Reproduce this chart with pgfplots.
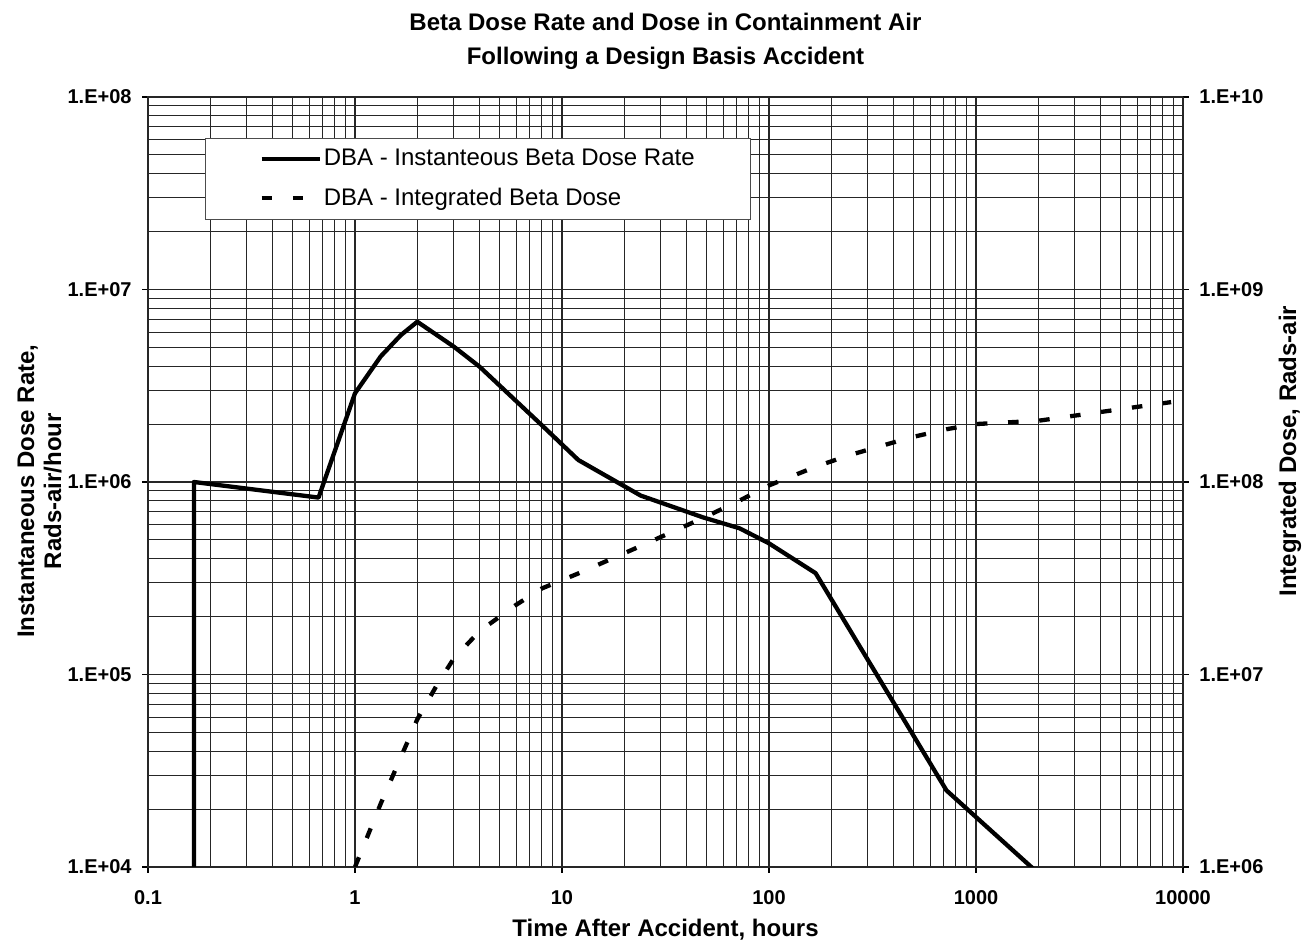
\documentclass[border=0pt]{standalone}
\usepackage{fontspec}
\setmainfont{Liberation Sans}
\usepackage{pgfplots}
\pgfplotsset{compat=1.18}

\begin{document}
\begin{tikzpicture}
\path[use as bounding box] (-74pt,-41.5pt) rectangle (582pt,433.5pt);

% left axis: dose rate
\begin{axis}[
  at={(0,0)}, anchor=south west,
  scale only axis, width=517.5pt, height=385pt,
  xmode=log, ymode=log,
  xmin=0.1, xmax=10000,
  ymin=1e4, ymax=1e8,
  xtick={0.1,1,10,100,1000,10000},
  xticklabels={0.1,1,10,100,1000,10000},
  ytick={1e4,1e5,1e6,1e7,1e8},
  yticklabels={1.E+04,1.E+05,1.E+06,1.E+07,1.E+08},
  minor xtick={0.2,0.3,0.4,0.5,0.6,0.7,0.8,0.9,2,3,4,5,6,7,8,9,20,30,40,50,60,70,80,90,200,300,400,500,600,700,800,900,2000,3000,4000,5000,6000,7000,8000,9000},
  minor ytick={2e4,3e4,4e4,5e4,6e4,7e4,8e4,9e4,2e5,3e5,4e5,5e5,6e5,7e5,8e5,9e5,2e6,3e6,4e6,5e6,6e6,7e6,8e6,9e6,2e7,3e7,4e7,5e7,6e7,7e7,8e7,9e7},
  grid=both,
  major grid style={black!85, line width=0.55pt},
  minor grid style={black!85, line width=0.55pt},
  tick align=outside,
  major tick length=3pt, minor tick length=0pt,
  tick style={black, line width=0.55pt},
  axis line style={black!85, line width=0.55pt},
  xtick pos=bottom, ytick pos=left,
  ticklabel style={font=\bfseries\fontsize{10}{12}\selectfont},
  xticklabel style={yshift=-5pt, text height=7.2pt},
  yticklabel style={xshift=-1.7pt},
  title={Beta Dose Rate and Dose in Containment Air\\Following a Design Basis Accident},
  every axis title/.style={at={(axis description cs:0.5,1)}, anchor=south, yshift=10pt,
    align=center, font=\bfseries\fontsize{12}{17.3}\selectfont},
  xlabel={Time After Accident, hours},
  xlabel style={at={(axis description cs:0.5,-0.0818)}, anchor=center,
    font=\bfseries\fontsize{12}{13.5}\selectfont},
  ylabel={Instantaneous Dose Rate,\\Rads-air/hour},
  ylabel style={at={(axis description cs:-0.1048,0.488)}, anchor=center,
    align=center, font=\bfseries\fontsize{12}{13.5}\selectfont},
]
\addplot[black, line width=2.15pt, line join=round] coordinates {
  (0.1667,1e3) (0.1667,1.0e6) (0.6667,8.3e5) (1,2.89e6) (1.333,4.5e6)
  (1.667,5.8e6) (2,6.8e6) (3,5.05e6) (4,3.97e6) (8,1.97e6) (12,1.3e6)
  (24,8.5e5) (48,6.55e5) (72,5.75e5) (100,4.8e5) (168,3.36e5)
  (720,2.5e4) (2160,8.6e3)
};
\end{axis}

% right axis: integrated dose
\begin{axis}[
  at={(0,0)}, anchor=south west,
  scale only axis, width=517.5pt, height=385pt,
  xmode=log, ymode=log,
  xmin=0.1, xmax=10000,
  ymin=1e6, ymax=1e10,
  ytick={1e6,1e7,1e8,1e9,1e10},
  yticklabels={1.E+06,1.E+07,1.E+08,1.E+09,1.E+10},
  minor ytick={},
  axis x line=none,
  axis y line*=right,
  tick align=outside,
  major tick length=3pt, minor tick length=0pt,
  tick style={black, line width=0.55pt},
  axis line style={black!85, line width=0.55pt},
  ticklabel style={font=\bfseries\fontsize{10}{12}\selectfont},
  yticklabel style={xshift=1.7pt},
  ylabel={Integrated Dose, Rads-air},
  ylabel style={at={(axis description cs:1.1034,0.54)}, anchor=center,
    font=\bfseries\fontsize{12}{13.5}\selectfont},
  legend image code/.code={\draw[#1] (0pt,0pt) -- (29pt,0pt);},
  legend cell align=left,
  legend style={at={(axis description cs:0.0551,0.9468)}, anchor=north west,
    draw=black!70, line width=0.5pt, fill=white,
    inner xsep=27pt, inner ysep=3.5pt, row sep=5.5pt,
    font=\fontsize{12}{14}\selectfont,
    nodes={inner xsep=1pt, inner ysep=2pt, text depth=0.15em}},
]
\addlegendimage{black, line width=2.15pt}
\addlegendentry{DBA - Instanteous Beta Dose Rate}
\addplot[black, line width=2.15pt, dash pattern=on 5.25pt off 10.35pt] coordinates {
  (1,1.0e6) (1.333,2.14e6) (2,5.85e6) (2.5,8.9e6) (3,1.21e7) (4,1.68e7)
  (6,2.3e7) (8,2.8e7) (12,3.35e7) (24,4.65e7) (48,6.5e7) (72,8.0e7)
  (100,9.6e7) (168,1.2e8) (240,1.37e8) (480,1.7e8) (720,1.88e8)
  (1000,2.0e8) (2000,2.08e8) (8760,2.6e8)
};
\addlegendentry{DBA - Integrated Beta Dose}
\end{axis}
\end{tikzpicture}
\end{document}
